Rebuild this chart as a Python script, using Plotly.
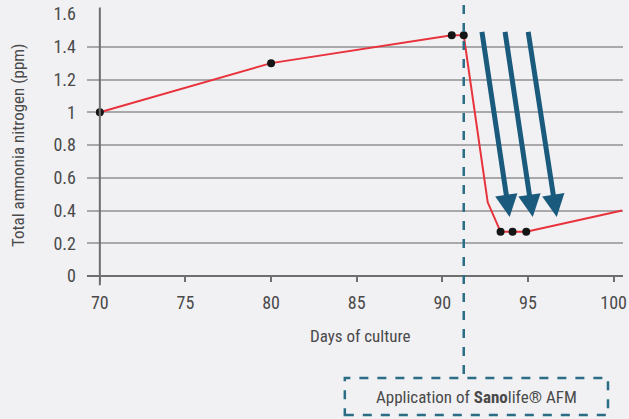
import plotly.graph_objects as go

# Data
days = [70, 80, 90.55, 91.25, 93.4, 94.1, 94.9]
ammonia = [1.0, 1.3, 1.47, 1.47, 0.27, 0.27, 0.27]

# Line path (includes bend and final unmarked end)
line_days = [70, 80, 90.55, 91.25, 92.65, 93.4, 94.1, 94.9, 100.5]
line_vals = [1.0, 1.3, 1.47, 1.47, 0.45, 0.27, 0.27, 0.27, 0.4]

x_ticks = [70, 75, 80, 85, 90, 95, 100]
y_ticks = [0, 0.2, 0.4, 0.6, 0.8, 1, 1.2, 1.4, 1.6]
y_labels = ["0", "0.2", "0.4", "0.6", "0.8", "1", "1.2", "1.4", "1.6"]

application_day = 91.25

# Arrows: (tail day, tail value, head day, head value)
arrow_tail_days = [92.3, 93.65, 95.0]
arrow_head_days = [93.93, 95.28, 96.68]
arrow_tail_val = 1.5
arrow_head_val = 0.36

FONT = "Roboto Condensed, Liberation Sans Narrow, Roboto, sans-serif"
TXT = "#4a4a4a"
BG = "#f1f1f4"

fig = go.Figure()
fig.add_trace(go.Scatter(x=line_days, y=line_vals, mode="lines",
                         line=dict(color="#e8323c", width=2), hoverinfo="skip"))
fig.add_trace(go.Scatter(x=days, y=ammonia, mode="markers",
                         marker=dict(color="#151515", size=8)))

# y axis line
fig.add_shape(type="line", xref="x", yref="paper", x0=70, x1=70, y0=-0.035, y1=1.025,
              line=dict(color="#6e6e6e", width=2), layer="above")
# vertical dashed application line
fig.add_shape(type="line", xref="x", yref="paper", x0=application_day, x1=application_day,
              y0=1.034, y1=-0.389, line=dict(color="#2b6d85", width=2.5, dash="dash"), layer="above")
# dashed box
fig.add_shape(type="rect", xref="paper", yref="paper", x0=0.481, x1=0.972, y0=-0.531, y1=-0.389,
              line=dict(color="#2b6d85", width=2.5, dash="dash"))

for t, h in zip(arrow_tail_days, arrow_head_days):
    fig.add_annotation(x=h, y=arrow_head_val, ax=t, ay=arrow_tail_val, xref="x", yref="y",
                       axref="x", ayref="y", showarrow=True, arrowhead=2, arrowsize=0.9,
                       arrowwidth=5, arrowcolor="#1a5a7c", text="")

common = dict(xref="paper", yref="paper", showarrow=False, xanchor="center", yanchor="middle",
              font=dict(family=FONT, size=17, color=TXT))
fig.add_annotation(x=(360 - 87) / 536, y=(276 - 336) / 262, text="Days of culture", **common)
fig.add_annotation(x=(18 - 87) / 536, y=(276 - 145) / 262, text="Total ammonia nitrogen (ppm)",
                   textangle=-90, **common)
fig.add_annotation(x=(476 - 87) / 536, y=(276 - 397) / 262,
                   text="Application of <b>Sano</b>life® AFM", **common)

fig.update_layout(
    width=629, height=419,
    margin=dict(l=87, r=6, t=14, b=143, autoexpand=False),
    paper_bgcolor=BG, plot_bgcolor=BG,
    showlegend=False,
    font=dict(family=FONT, size=18, color=TXT),
    xaxis=dict(range=[69.25, 100.55], tickvals=x_ticks, showgrid=False, zeroline=False,
               showline=False, ticks="outside", ticklen=5, tickwidth=1.5, tickcolor="#6e6e6e",
               ticklabelstandoff=5, automargin=False,
               tickfont=dict(family=FONT, size=18, color=TXT)),
    yaxis=dict(range=[0, 1.6], tickvals=y_ticks, ticktext=y_labels, showgrid=True,
               gridcolor="#a9a9ab", gridwidth=2, zeroline=True, zerolinecolor="#6e6e6e",
               zerolinewidth=2, showline=False, ticks="", ticklabelstandoff=10, automargin=False,
               tickfont=dict(family=FONT, size=18, color=TXT)),
)

fig.write_html("out.html", config={"displayModeBar": False},
               post_script="document.body.style.margin='0';document.body.style.background='#f1f1f4';")
